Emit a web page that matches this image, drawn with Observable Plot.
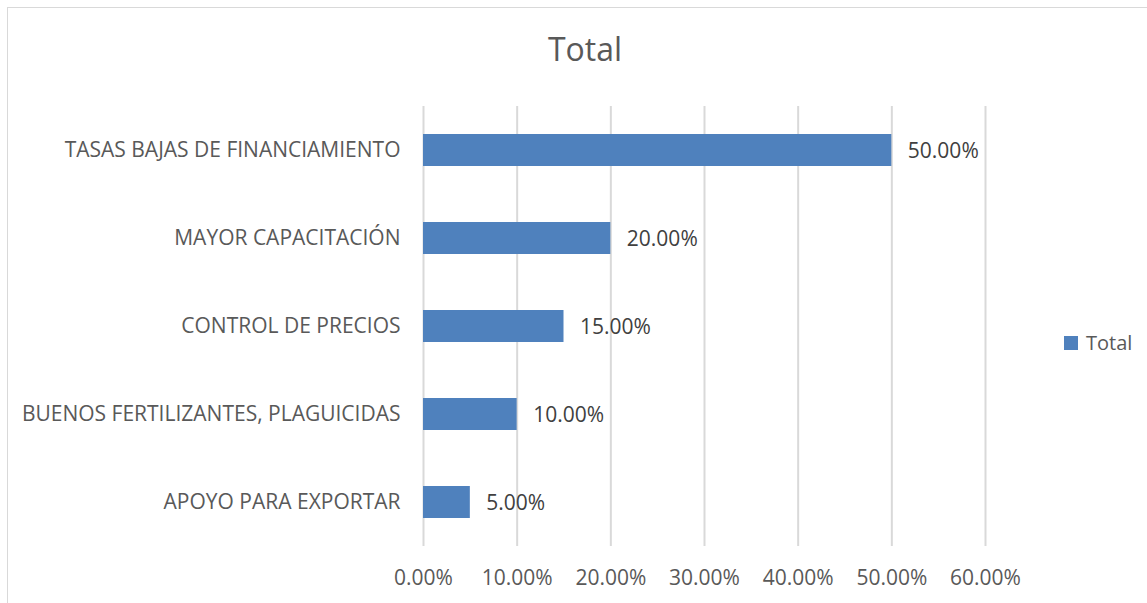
<!DOCTYPE html>
<html><head><meta charset="utf-8">
<script src="https://cdn.jsdelivr.net/npm/d3@7"></script>
<script src="https://cdn.jsdelivr.net/npm/@observablehq/plot@0.6"></script>
<style>
body{margin:0;background:#fff;font-family:"Open Sans",sans-serif;}
#wrap{position:relative;width:1147px;height:603px;overflow:hidden;background:#fff;}
#frame{position:absolute;left:7px;top:7px;width:1150px;height:610px;border:1px solid #d9d9d9;box-sizing:border-box;}
#title{position:absolute;left:0;width:1170px;top:27px;text-align:center;font-size:32px;color:#595959;}
#chart{position:absolute;left:0;top:0;}
#legend{position:absolute;left:1064px;top:329px;font-size:20px;color:#595959;display:flex;align-items:center;}
#legend span.sw{display:inline-block;width:14px;height:14px;background:#4f81bd;margin-right:8px;}
</style></head>
<body>
<div id="wrap">
<div id="frame"></div>
<div id="title">Total</div>
<div id="chart"></div>
<div id="legend"><span class="sw"></span><span>Total</span></div>
</div>
<script>
const categories = ["TASAS BAJAS DE FINANCIAMIENTO","MAYOR CAPACITACIÓN","CONTROL DE PRECIOS","BUENOS FERTILIZANTES, PLAGUICIDAS","APOYO PARA EXPORTAR"];
const values = [0.50, 0.20, 0.15, 0.10, 0.05];
const xTicks = [0, 0.1, 0.2, 0.3, 0.4, 0.5, 0.6];
const data = categories.map((c, i) => ({category: c, value: values[i]}));
const fmt = d => (d * 100).toFixed(2) + "%";
const chart = Plot.plot({
  width: 1147, height: 603,
  marginLeft: 423, marginRight: 162, marginTop: 106, marginBottom: 57,
  style: {fontFamily: "'Open Sans', sans-serif", fontSize: "21px", color: "#595959", background: "transparent"},
  x: {domain: [0, 0.6], ticks: xTicks, tickFormat: fmt, label: null},
  y: {domain: categories, paddingInner: 0.636, paddingOuter: 0.318, label: null},
  marks: [
    Plot.gridX(xTicks, {stroke: "#d9d9d9", strokeOpacity: 1, strokeWidth: 2}),
    Plot.barX(data, {x: "value", y: "category", fill: "#4f81bd"}),
    Plot.text(data, {x: "value", y: "category", text: d => fmt(d.value), textAnchor: "start", dx: 16, dy: 1, fill: "#404040", fontSize: 21}),
    Plot.axisX(xTicks, {tickSize: 0, tickPadding: 24, tickFormat: fmt, fontSize: 21, fill: "#595959", label: null}),
    Plot.axisY({tickSize: 0, tickPadding: 23, fontSize: 21, fill: "#595959", label: null})
  ]
});
document.getElementById("chart").appendChild(chart);
</script>
</body></html>
